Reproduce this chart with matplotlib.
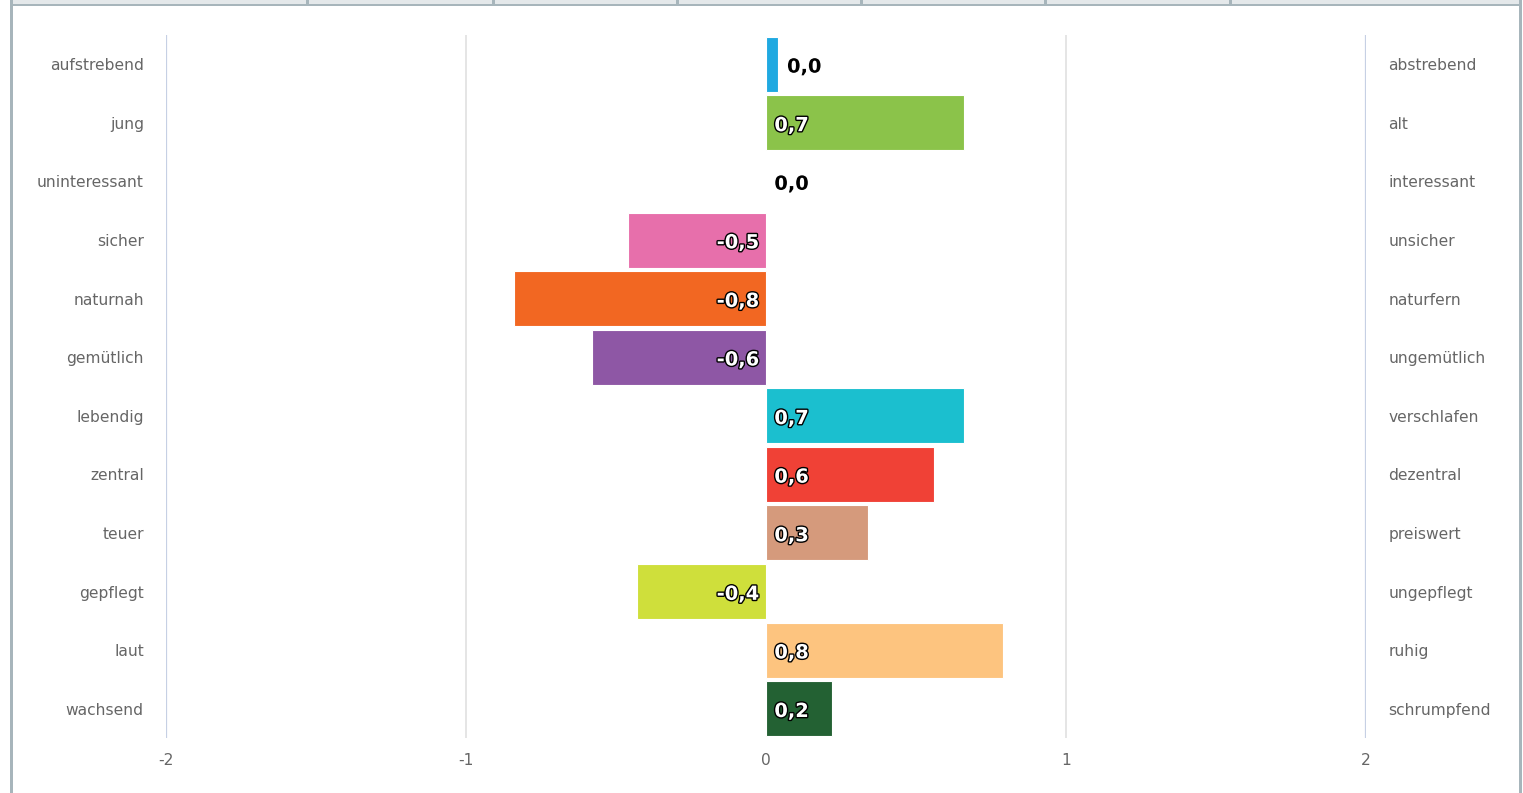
import matplotlib
matplotlib.use("Agg")
import matplotlib.pyplot as plt
import matplotlib.patheffects as pe
from matplotlib.patches import Rectangle

# Semantic differential data
left_labels = ["aufstrebend", "jung", "uninteressant", "sicher", "naturnah", "gemütlich",
               "lebendig", "zentral", "teuer", "gepflegt", "laut", "wachsend"]
right_labels = ["abstrebend", "alt", "interessant", "unsicher", "naturfern", "ungemütlich",
                "verschlafen", "dezentral", "preiswert", "ungepflegt", "ruhig", "schrumpfend"]
values = [0.04, 0.66, 0.0, -0.46, -0.84, -0.58, 0.66, 0.56, 0.34, -0.43, 0.79, 0.22]
colors = ["#1fa9e1", "#8bc34a", "#ffffff", "#e76fab", "#f26722", "#8e57a5",
          "#1bbfcf", "#f04136", "#d59a7c", "#cfdf3b", "#fdc47f", "#236133"]
x_ticks = [-2, -1, 0, 1, 2]

W, H = 1523, 793
fig = plt.figure(figsize=(W / 100, H / 100), dpi=100)
ax = fig.add_axes([166 / W, 1 - 738 / H, 1200 / W, 703 / H])

pos = list(range(len(left_labels)))
ax.barh(pos, values, height=0.94, color=colors, edgecolor="white", linewidth=0.8, zorder=3)

ax.set_xlim(-2, 2)
ax.set_ylim(len(pos) - 0.5, -0.5)
ax.set_xticks(x_ticks)
ax.set_xticklabels([str(t) for t in x_ticks])
ax.set_yticks(pos)
ax.set_yticklabels(left_labels)
ax.tick_params(axis="x", length=0, pad=11, labelsize=11.2, labelcolor="#666666")
ax.tick_params(axis="y", length=0, pad=16, labelsize=11.2, labelcolor="#666666")
for s in ax.spines.values():
    s.set_visible(False)

# grid lines
for t in x_ticks:
    if t in (-2, 2):
        ax.axvline(t, color="#c6d0e4", lw=1.6, zorder=1)
    elif t != 0:
        ax.axvline(t, color="#e3e3e3", lw=1.3, zorder=1)

ax2 = ax.twinx()
ax2.set_ylim(ax.get_ylim())
ax2.set_yticks(pos)
ax2.set_yticklabels(right_labels)
ax2.tick_params(axis="y", length=0, pad=16, labelsize=11.2, labelcolor="#666666")
for s in ax2.spines.values():
    s.set_visible(False)

# value labels
for i, v in enumerate(values):
    txt = f"{v:.1f}".replace(".", ",")
    outside = 0 < abs(v) < 0.1
    if outside:
        ax.annotate(txt, (v, i), xytext=(6.5, -2), textcoords="offset points",
                    ha="left", va="center", fontsize=14, fontweight="bold", color="black",
                    path_effects=[pe.withStroke(linewidth=2, foreground="white")], zorder=5)
    elif v >= 0:
        dark = colors[i] == "#ffffff"
        ax.annotate(txt, (0, i), xytext=(6, -2), textcoords="offset points",
                    ha="left", va="center", fontsize=14, fontweight="bold",
                    color="black" if dark else "white",
                    path_effects=[pe.withStroke(linewidth=2, foreground="white" if dark else "black")],
                    zorder=5)
    else:
        ax.annotate(txt, (0, i), xytext=(-5, -2), textcoords="offset points",
                    ha="right", va="center", fontsize=14, fontweight="bold", color="white",
                    path_effects=[pe.withStroke(linewidth=2, foreground="black")], zorder=5)

# surrounding frame (page container)
frame = "#a7b5bb"
fig.add_artist(Rectangle((10 / W, 1 - 3.5 / H), 1512 / W, 3.5 / H, transform=fig.transFigure,
                         facecolor="#e4e8ea", edgecolor="none"))
fig.add_artist(Rectangle((10 / W, 1 - 6 / H), 1512 / W, 2.5 / H, transform=fig.transFigure,
                         facecolor=frame, edgecolor="none"))
for xd in [306, 492, 676, 860, 1044, 1229]:
    fig.add_artist(Rectangle((xd / W, 1 - 4 / H), 2.5 / W, 4 / H, transform=fig.transFigure,
                             facecolor=frame, edgecolor="none"))
fig.add_artist(Rectangle((9.5 / W, 0), 3 / W, 1, transform=fig.transFigure,
                         facecolor=frame, edgecolor="none"))
fig.add_artist(Rectangle((1519 / W, 0), 3 / W, 1, transform=fig.transFigure,
                         facecolor=frame, edgecolor="none"))

fig.savefig("out.png", dpi=100)
